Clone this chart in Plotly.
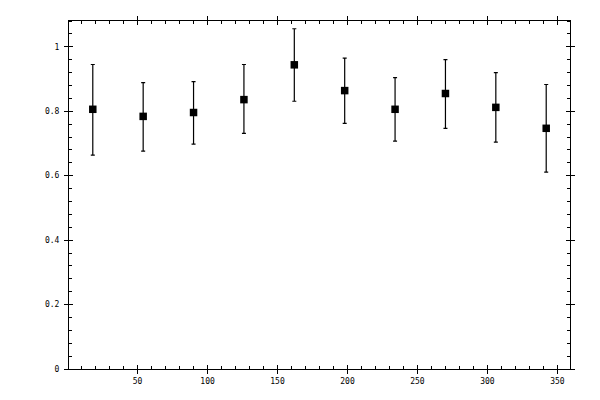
import plotly.graph_objects as go

# Data
angle = [18, 54, 90, 126, 162, 198, 234, 270, 306, 342]
value = [0.806, 0.784, 0.796, 0.836, 0.944, 0.864, 0.806, 0.855, 0.812, 0.747]
upper = [0.945, 0.889, 0.892, 0.945, 1.056, 0.965, 0.904, 0.960, 0.920, 0.883]
lower = [0.664, 0.676, 0.698, 0.731, 0.831, 0.762, 0.707, 0.747, 0.704, 0.611]

err_plus = [u - v for u, v in zip(upper, value)]
err_minus = [v - l for v, l in zip(value, lower)]

x_range = [1, 359]
y_range = [0, 1.08]

fig = go.Figure()

fig.add_trace(go.Scatter(
    x=angle,
    y=value,
    mode='markers',
    marker=dict(symbol='square', size=7.5, color='black'),
    error_y=dict(
        type='data',
        symmetric=False,
        array=err_plus,
        arrayminus=err_minus,
        color='black',
        thickness=1.2,
        width=2,
    ),
    showlegend=False,
))

# invisible trace so the overlay axes (inner half of major ticks) get drawn
fig.add_trace(go.Scatter(
    x=[angle[0]], y=[value[0]], xaxis='x2', yaxis='y2',
    mode='markers', marker=dict(opacity=0), showlegend=False, hoverinfo='skip',
))

tick_font = dict(family='DejaVu Sans Mono', size=8, color='black')

# page body has an 8px margin, so the margins are shifted by that
fig.update_layout(
    width=600,
    height=400,
    margin=dict(l=61, r=38, t=8, b=39),
    paper_bgcolor='white',
    plot_bgcolor='white',
    xaxis=dict(
        range=x_range, tick0=0, dtick=50,
        showgrid=False, zeroline=False,
        showline=True, linecolor='black', linewidth=1,
        mirror='allticks',
        ticks='outside', ticklen=4, tickwidth=1, tickcolor='black',
        minor=dict(dtick=10, ticks='inside', ticklen=3, tickwidth=1, tickcolor='black'),
        tickfont=tick_font,
    ),
    yaxis=dict(
        range=y_range, tick0=0, dtick=0.2,
        showgrid=False, zeroline=False,
        showline=True, linecolor='black', linewidth=1,
        mirror='allticks',
        ticks='outside', ticklen=4, tickwidth=1, tickcolor='black',
        minor=dict(dtick=0.04, ticks='inside', ticklen=3, tickwidth=1, tickcolor='black'),
        tickfont=tick_font,
        ticklabelstandoff=3,
    ),
    xaxis2=dict(
        range=x_range, tick0=0, dtick=50, overlaying='x',
        showgrid=False, zeroline=False, showline=False,
        mirror='allticks', ticks='inside', ticklen=4, tickwidth=1, tickcolor='black',
        showticklabels=False,
    ),
    yaxis2=dict(
        range=y_range, tick0=0, dtick=0.2, overlaying='y',
        showgrid=False, zeroline=False, showline=False,
        mirror='allticks', ticks='inside', ticklen=4, tickwidth=1, tickcolor='black',
        showticklabels=False,
    ),
)

fig.write_html("out.html")
